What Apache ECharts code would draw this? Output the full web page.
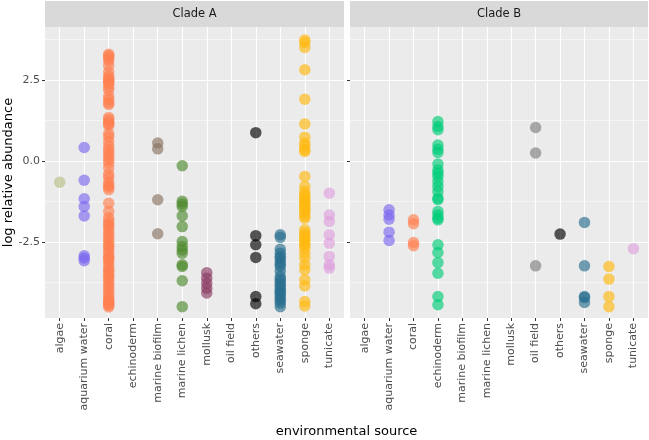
<!DOCTYPE html>
<html>
<head>
<meta charset="utf-8">
<title>log relative abundance by environmental source</title>
<script src="https://cdn.jsdelivr.net/npm/echarts@6/dist/echarts.min.js"></script>
<style>html,body{margin:0;padding:0;background:#fff;}</style>
</head>
<body>
<div id="main" style="width:649px;height:440px;"></div>
<script type="text/javascript">
// categories on the x axis (same order in both facets)
var sources = ['algae', 'aquarium water', 'coral', 'echinoderm', 'marine biofilm', 'marine lichen',
  'mollusk', 'oil field', 'others', 'seawater', 'sponge', 'tunicate'];
var colors = ['#b8bf86', '#7b68ee', '#ff7f50', '#00cd78', '#8b7362', '#4e8a2e',
  '#8b3a62', '#808080', '#000000', '#2a6e8f', '#ffb90f', '#dda0dd'];

var yTicks = [-2.5, 0, 2.5];
var yMinor = [-3.75, -1.25, 1.25, 3.75];
var facets = ['Clade A', 'Clade B'];

// values, one list per source
var cladeA = [
  [-0.65],
  [0.42, -0.59, -1.16, -1.40, -1.69, -2.92, -2.99, -3.07],
  [3.30, 3.25, 3.18, 3.10, 2.95, 2.75, 2.62, 2.55, 2.50, 2.45, 2.40, 2.30, 2.20, 2.00, 1.90, 1.80, 1.75,
   1.35, 1.28, 1.20, 1.15, 1.10, 0.85, 0.75, 0.60, 0.45, 0.35, 0.25, 0.15, 0.05, -0.05, -0.20, -0.40,
   -0.50, -0.65, -0.75, -0.80, -0.88, -1.30, -1.55, -1.75, -1.85, -1.95, -2.00, -2.10, -2.20, -2.30,
   -2.40, -2.50, -2.60, -2.65, -2.75, -2.85, -2.95, -3.00, -3.05, -3.15, -3.25, -3.35, -3.40, -3.50,
   -3.55, -3.65, -3.75, -3.85, -3.95, -4.05, -4.15, -4.25, -4.30, -4.35, -4.40, -4.45, -4.50],
  [],
  [0.56, 0.38, -1.19, -2.24],
  [-0.14, -1.24, -1.32, -1.40, -1.69, -2.02, -2.48, -2.63, -2.74, -2.84, -3.20, -3.25, -3.69, -4.49],
  [-3.44, -3.61, -3.77, -3.92, -4.07],
  [],
  [0.88, -2.30, -2.58, -2.97, -4.18, -4.40],
  [-2.27, -2.35, -2.72, -2.84, -2.94, -3.00, -3.10, -3.18, -3.25, -3.40, -3.56, -3.65, -3.71, -3.80,
   -3.87, -3.95, -4.02, -4.07, -4.15, -4.23, -4.30, -4.38, -4.49],
  [3.74, 3.66, 3.51, 2.82, 1.91, 1.15, 0.74, 0.56, 0.47, 0.35, 0.30, -0.47, -0.78, -0.94, -1.05, -1.09,
   -1.19, -1.25, -1.30, -1.40, -1.45, -1.52, -1.60, -1.70, -1.76, -2.12, -2.22, -2.30, -2.38, -2.45,
   -2.53, -2.60, -2.69, -2.84, -2.99, -3.20, -3.35, -3.66, -3.85, -4.33, -4.47],
  [-0.99, -1.66, -1.86, -2.27, -2.53, -2.94, -3.20, -3.30]
];
var cladeB = [
  [],
  [-1.50, -1.66, -1.79, -2.19, -2.45],
  [-1.81, -1.93, -2.51, -2.61],
  [1.22, 1.07, 0.97, 0.50, 0.37, 0.27, -0.09, -0.27, -0.37, -0.47, -0.63, -0.78, -0.94, -1.14, -1.19,
   -1.55, -1.66, -1.76, -1.81, -2.58, -2.82, -3.13, -3.46, -4.18, -4.43],
  [],
  [],
  [],
  [1.04, 0.25, -3.23],
  [-2.25],
  [-1.89, -3.23, -4.18, -4.21, -4.36],
  [-3.25, -3.64, -4.18, -4.49],
  [-2.70]
];

var myChart = echarts.init(document.getElementById('main'));

var panelLeft = [45, 350];
var panelWidth = [299, 298];
var panelTop = 27, panelHeight = 291;
var yMin = -4.84, yMax = 4.14;
var catIdx = sources.map(function (s, i) { return i; });

var grids = [], xAxes = [], yAxes = [], series = [], graphics = [];

[cladeA, cladeB].forEach(function (clade, g) {
  grids.push({
    left: panelLeft[g], top: panelTop, width: panelWidth[g], height: panelHeight,
    show: true, backgroundColor: '#EBEBEB', borderWidth: 0, containLabel: false
  });
  xAxes.push({
    type: 'value', gridIndex: g, min: -0.6, max: 11.6, position: 'bottom',
    axisLine: { show: false, onZero: false },
    axisTick: { show: true, customValues: catIdx, length: 3, lineStyle: { color: '#333333', width: 1 } },
    axisLabel: {
      customValues: catIdx, rotate: 90, margin: 5,
      color: '#4D4D4D', fontSize: 11, fontFamily: 'DejaVu Sans',
      formatter: function (v) { return sources[v]; }
    },
    splitLine: { show: true, lineStyle: { color: '#ffffff', width: 1.1 } }
  });
  // main y axis: ticks, labels, major grid
  yAxes.push({
    type: 'value', gridIndex: g, min: yMin, max: yMax, position: 'left',
    axisLine: { show: false, onZero: false },
    axisTick: { show: true, customValues: yTicks, length: 3, lineStyle: { color: '#333333', width: 1 } },
    axisLabel: {
      show: g === 0, customValues: yTicks, margin: 5,
      color: '#4D4D4D', fontSize: 11, fontFamily: 'DejaVu Sans',
      formatter: function (v) { return v.toFixed(1); }
    },
    splitLine: { show: true, lineStyle: { color: '#ffffff', width: 1.1 } }
  });
  // second y axis only for the minor grid lines
  yAxes.push({
    type: 'value', gridIndex: g, min: yMin, max: yMax, position: 'left',
    axisLine: { show: false, onZero: false },
    axisTick: { show: false, customValues: yMinor },
    axisLabel: { show: false },
    splitLine: { show: true, lineStyle: { color: '#ffffff', width: 0.5 } }
  });

  clade.forEach(function (vals, i) {
    if (!vals.length) return;
    series.push({
      type: 'scatter', name: facets[g] + ' ' + sources[i],
      xAxisIndex: g, yAxisIndex: g * 2,
      symbolSize: 11.5,
      itemStyle: { color: colors[i], opacity: 0.65 },
      data: vals.map(function (v) { return [i, v]; })
    });
  });

  // facet strip
  graphics.push({
    type: 'rect', silent: true,
    shape: { x: panelLeft[g], y: 1, width: panelWidth[g], height: panelTop - 1 },
    style: { fill: '#D9D9D9' }
  });
  graphics.push({
    type: 'text', silent: true,
    x: panelLeft[g] + panelWidth[g] / 2, y: 14,
    style: { text: facets[g], fill: '#1A1A1A', font: '11.5px "DejaVu Sans"', align: 'center', verticalAlign: 'middle' }
  });
});

graphics.push({
  type: 'text', silent: true, x: 9, y: panelTop + panelHeight / 2, rotation: Math.PI / 2,
  style: { text: 'log relative abundance', fill: '#000000', font: '13px "DejaVu Sans"', align: 'center', verticalAlign: 'middle' }
});
graphics.push({
  type: 'text', silent: true, x: 346.5, y: 432,
  style: { text: 'environmental source', fill: '#000000', font: '13px "DejaVu Sans"', align: 'center', verticalAlign: 'middle' }
});

var option = {
  animation: false,
  backgroundColor: '#ffffff',
  grid: grids,
  xAxis: xAxes,
  yAxis: yAxes,
  series: series,
  graphic: graphics
};

myChart.setOption(option);
</script>
</body>
</html>
